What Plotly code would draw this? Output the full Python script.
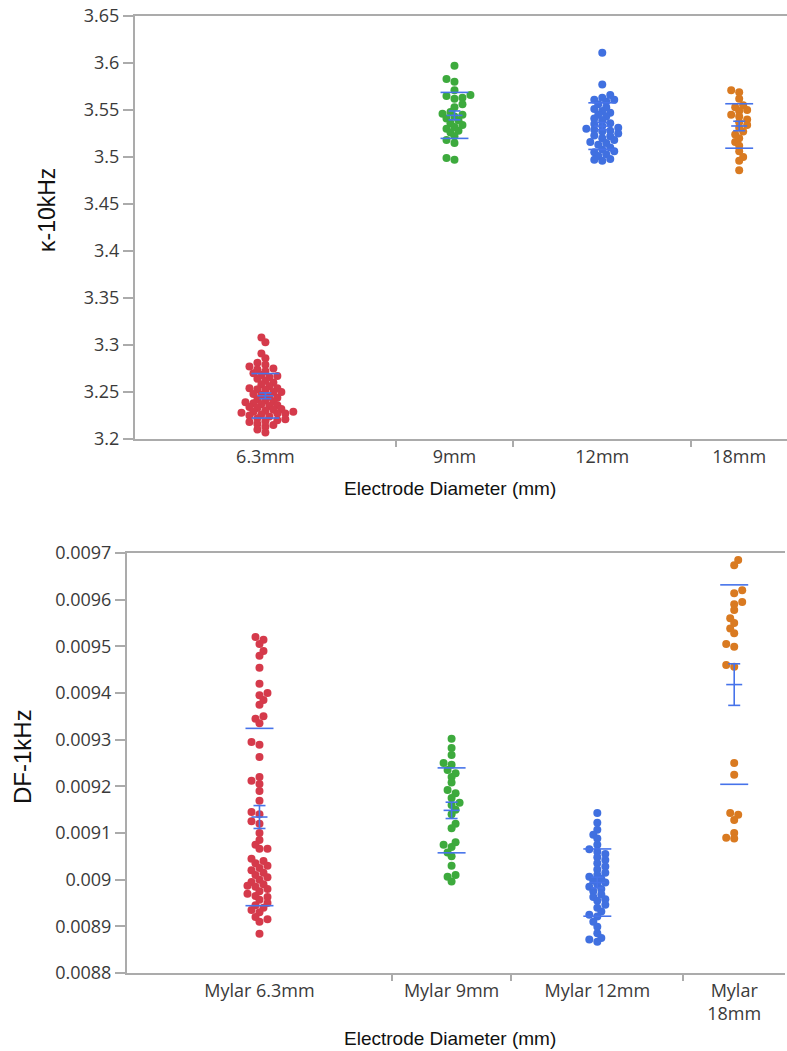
import numpy as np
import plotly.graph_objects as go

W, H = 787, 1051

# ---- data -------------------------------------------------------------
top_categories = ["6.3mm", "9mm", "12mm", "18mm"]
kappa_6p3 = [3.308, 3.303, 3.291, 3.286, 3.281, 3.279, 3.277, 3.275, 3.274, 3.272,
             3.270, 3.268, 3.267, 3.266, 3.264, 3.262, 3.260,
             3.258, 3.256, 3.254, 3.254, 3.253, 3.252, 3.250, 3.250,
             3.248, 3.247, 3.245, 3.244, 3.242, 3.241, 3.240,
             3.239, 3.238, 3.237, 3.236, 3.235, 3.234, 3.233, 3.232, 3.231, 3.230,
             3.229, 3.229, 3.228, 3.227, 3.227, 3.226, 3.225, 3.224, 3.222, 3.221, 3.220,
             3.218, 3.216, 3.213, 3.210, 3.207, 3.215, 3.219]
kappa_9 = [3.597, 3.583, 3.580, 3.571, 3.566, 3.565, 3.563, 3.562, 3.556, 3.553,
           3.548, 3.546, 3.545, 3.543, 3.541, 3.539, 3.536, 3.534, 3.532, 3.530,
           3.528, 3.526, 3.522, 3.518, 3.515, 3.499, 3.497]
kappa_12 = [3.611, 3.577, 3.566, 3.563, 3.561, 3.561, 3.559, 3.556, 3.553, 3.551,
            3.549, 3.547, 3.545, 3.543, 3.541, 3.539, 3.536, 3.535, 3.533, 3.531,
            3.529, 3.528, 3.527, 3.525, 3.523, 3.522, 3.520, 3.518, 3.516, 3.515,
            3.513, 3.510, 3.508, 3.506, 3.505, 3.503, 3.501, 3.498, 3.497, 3.496, 3.530]
kappa_18 = [3.571, 3.569, 3.562, 3.555, 3.550, 3.553, 3.549, 3.545, 3.543, 3.540,
            3.537, 3.534, 3.531, 3.527, 3.524, 3.520, 3.516, 3.512, 3.506, 3.500,
            3.496, 3.486]

bottom_categories = ["Mylar 6.3mm", "Mylar 9mm", "Mylar 12mm", "Mylar<br>18mm"]
df_6p3 = [0.009520, 0.009514, 0.009505, 0.009490, 0.009480, 0.009454, 0.009420, 0.009400,
          0.009395, 0.009385, 0.009375, 0.009350, 0.009345, 0.009335, 0.009295, 0.009289,
          0.009263, 0.009220, 0.009212, 0.009205, 0.009190, 0.009169, 0.009145, 0.009140,
          0.009125, 0.009120, 0.009100, 0.009085,
          0.009075, 0.009066, 0.009066, 0.009045, 0.009040, 0.009035, 0.009030, 0.009025,
          0.009020, 0.009015, 0.009010, 0.009005, 0.009000, 0.008995, 0.008990, 0.008987,
          0.008985, 0.008980, 0.008975, 0.008970, 0.008965, 0.008963, 0.008957, 0.008950,
          0.008945, 0.008940, 0.008935, 0.008930, 0.008920, 0.008915, 0.008910, 0.008884]
df_9 = [0.009302, 0.009282, 0.009267, 0.009250, 0.009246, 0.009235, 0.009228, 0.009220,
        0.009208, 0.009192, 0.009185, 0.009175, 0.009165, 0.009160, 0.009150, 0.009140,
        0.009120, 0.009110, 0.009080, 0.009075, 0.009070, 0.009058, 0.009050, 0.009030,
        0.009010, 0.009006, 0.008996]
df_12 = [0.009143, 0.009122, 0.009107, 0.009096, 0.009088, 0.009075, 0.009065, 0.009060,
         0.009055, 0.009048, 0.009042, 0.009035, 0.009028, 0.009022, 0.009015, 0.009010,
         0.009006, 0.009002, 0.008998, 0.008994, 0.008990, 0.008985, 0.008980, 0.008975,
         0.008968, 0.008963, 0.008958, 0.008955, 0.008946, 0.008940, 0.008932, 0.008925,
         0.008921, 0.008910, 0.008899, 0.008885, 0.008875, 0.008872, 0.008867]
df_18 = [0.009685, 0.009674, 0.009620, 0.009614, 0.009595, 0.009590, 0.009578, 0.009560,
         0.009550, 0.009538, 0.009528, 0.009505, 0.009499, 0.009460, 0.009456, 0.009250,
         0.009225, 0.009143, 0.009139, 0.009128, 0.009100, 0.009090, 0.009088]

top_ticks = [3.2, 3.25, 3.3, 3.35, 3.4, 3.45, 3.5, 3.55, 3.6, 3.65]
top_ticktext = ["3.2", "3.25", "3.3", "3.35", "3.4", "3.45", "3.5", "3.55", "3.6", "3.65"]
bottom_ticks = [0.0088, 0.0089, 0.0090, 0.0091, 0.0092, 0.0093, 0.0094, 0.0095, 0.0096, 0.0097]
bottom_ticktext = ["0.0088", "0.0089", "0.009", "0.0091", "0.0092", "0.0093",
                   "0.0094", "0.0095", "0.0096", "0.0097"]

# ---- styling ----------------------------------------------------------
colors = ["#D53A4B", "#3DAA3D", "#4070E0", "#D97A21"]
stat_color = "#4673EA"
axis_color = "#ABABAB"
tick_font = dict(family="Open Sans, Noto Sans, sans-serif", size=18, color="#3A3A3A")
title_font = dict(family="Liberation Sans, Arial, sans-serif", size=19, color="#111111")
MARKER = 8

# plot rectangles in pixels: (left, right, top, bottom)
panels = [
    dict(box=(135, 789, 16, 439), yrange=(3.2, 3.65), groups=[kappa_6p3, kappa_9, kappa_12, kappa_18],
         cats=top_categories, ticks=top_ticks, ticktext=top_ticktext),
    dict(box=(127, 785, 553, 973), yrange=(0.0088, 0.0097), groups=[df_6p3, df_9, df_12, df_18],
         cats=bottom_categories, ticks=bottom_ticks, ticktext=bottom_ticktext),
]


def swarm_offsets(vals, px_per_unit, diam):
    """Deterministic beeswarm: pixel x-offsets that keep markers loosely apart."""
    vals = np.asarray(vals, dtype=float)
    order = np.argsort(vals)
    step = diam * 0.5
    min_d = diam * 0.66
    placed = []
    out = np.zeros(len(vals))
    for rank, i in enumerate(order):
        y = vals[i] * px_per_unit
        sign = 1 if rank % 2 == 0 else -1
        cands = [0.0]
        for j in range(1, 30):
            cands += [sign * j * step, -sign * j * step]
        for c in cands:
            ok = True
            for (py, pxx) in placed:
                if abs(py - y) < min_d and (pxx - c) ** 2 + (py - y) ** 2 < min_d ** 2:
                    ok = False
                    break
            if ok:
                break
        placed.append((y, c))
        out[i] = c
    return out


fig = go.Figure()
layout_axes = {}

for k, p in enumerate(panels):
    left, right, top, bottom = p["box"]
    xa = "x" if k == 0 else f"x{k + 1}"
    ya = "y" if k == 0 else f"y{k + 1}"
    counts = [len(g) for g in p["groups"]]
    edges = np.concatenate([[0], np.cumsum(counts)])
    total = float(edges[-1])
    centers = (edges[:-1] + edges[1:]) / 2
    ux_per_px = total / (right - left)
    y0, y1 = p["yrange"]
    px_per_val = (bottom - top) / (y1 - y0)

    for g, vals in enumerate(p["groups"]):
        offs = swarm_offsets(vals, px_per_val, MARKER)
        fig.add_trace(go.Scatter(
            x=centers[g] + offs * ux_per_px, y=vals, mode="markers",
            marker=dict(size=MARKER, color=colors[g], line=dict(width=0)),
            xaxis=xa, yaxis=ya, showlegend=False, hoverinfo="y"))

    # mean, standard deviation lines and standard error bars
    for g, vals in enumerate(p["groups"]):
        v = np.asarray(vals)
        m, sd = v.mean(), v.std(ddof=1)
        se = sd / np.sqrt(len(v))
        c = centers[g]
        hw_sd, hw_cap, hw_mean = 14 * ux_per_px, 6 * ux_per_px, 8 * ux_per_px
        xs, ys = [], []
        for yy in (m + sd, m - sd):
            xs += [c - hw_sd, c + hw_sd, None]
            ys += [yy, yy, None]
        xs += [c, c, None, c - hw_cap, c + hw_cap, None, c - hw_cap, c + hw_cap, None,
               c - hw_mean, c + hw_mean, None]
        ys += [m - se, m + se, None, m + se, m + se, None, m - se, m - se, None, m, m, None]
        fig.add_trace(go.Scatter(x=xs, y=ys, mode="lines",
                                 line=dict(color=stat_color, width=1.6),
                                 xaxis=xa, yaxis=ya, showlegend=False, hoverinfo="skip"))

    xkey = "xaxis" if k == 0 else f"xaxis{k + 1}"
    ykey = "yaxis" if k == 0 else f"yaxis{k + 1}"
    layout_axes[xkey] = dict(
        domain=[left / W, min(right / W, 1.0)], range=[0, total], anchor=ya,
        tickmode="array", tickvals=list(centers), ticktext=p["cats"], ticks="",
        tickfont=tick_font, showgrid=False, zeroline=False, automargin=False,
        showline=True, linecolor=axis_color, linewidth=2, mirror=True,
        minor=dict(tickmode="array", tickvals=list(edges[1:-1]), ticks="outside",
                   ticklen=6, tickcolor=axis_color, tickwidth=1.5, showgrid=False),
        fixedrange=True)
    layout_axes[ykey] = dict(
        domain=[1 - bottom / H, 1 - top / H], range=[y0, y1], anchor=xa,
        tickmode="array", tickvals=p["ticks"], ticktext=p["ticktext"],
        ticks="outside", ticklen=10, tickcolor=axis_color, tickwidth=1.5,
        tickfont=tick_font, showgrid=False, zeroline=False, automargin=False,
        showline=True, linecolor=axis_color, linewidth=2, fixedrange=True)

annotations = [
    dict(text="κ-10kHz", x=47 / W, y=1 - 210 / H, textangle=-90,
         font=dict(title_font, size=23)),
    dict(text="Electrode Diameter (mm)", x=450 / W, y=1 - 488 / H, font=title_font),
    dict(text="DF-1kHz", x=22 / W, y=1 - 757 / H, textangle=-90,
         font=dict(title_font, size=24)),
    dict(text="Electrode Diameter (mm)", x=450 / W, y=1 - 1038 / H, font=title_font),
]
for a in annotations:
    a.update(xref="paper", yref="paper", xanchor="center", yanchor="middle",
             showarrow=False)

fig.update_layout(
    template="none",
    width=W, height=H, margin=dict(l=0, r=0, t=0, b=0, autoexpand=False),
    paper_bgcolor="white", plot_bgcolor="white",
    annotations=annotations, **layout_axes)

fig.write_html("out.html")
